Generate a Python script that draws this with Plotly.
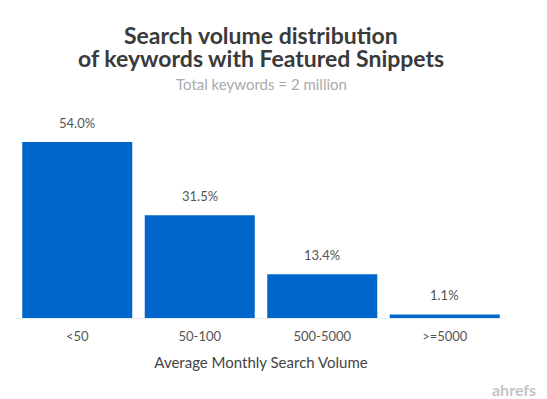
import plotly.graph_objects as go

categories = ["<50", "50-100", "500-5000", ">=5000"]
shares = [54.0, 31.5, 13.4, 1.1]
value_labels = ["54.0%", "31.5%", "13.4%", "1.1%"]

title_line1 = "Search volume distribution"
title_line2 = "of keywords with Featured Snippets"
subtitle = "Total keywords = 2 million"
x_title = "Average Monthly Search Volume"
watermark = "ahrefs"

FONT = "Lato, 'Noto Sans', sans-serif"
BAR_COLOR = "#0066cc"

fig = go.Figure()
fig.add_trace(go.Bar(
    x=categories, y=shares,
    marker=dict(color=BAR_COLOR, line=dict(width=0)),
    hoverinfo="skip",
))

annotations = []
for c, v, t in zip(categories, shares, value_labels):
    annotations.append(dict(
        x=c, y=v, xref="x", yref="y", text=t, showarrow=False,
        yanchor="bottom", yshift=9,
        font=dict(family=FONT, size=13, color="#555555"),
    ))

annotations += [
    dict(text=f"<b>{title_line1}</b>", xref="paper", yref="paper", x=0.5, y=1,
         xanchor="center", yanchor="middle", yshift=65, showarrow=False,
         font=dict(family=FONT, size=23, color="#3a3a3a")),
    dict(text=f"<b>{title_line2}</b>", xref="paper", yref="paper", x=0.5, y=1,
         xanchor="center", yanchor="middle", yshift=42, showarrow=False,
         font=dict(family=FONT, size=23, color="#3a3a3a")),
    dict(text=subtitle, xref="paper", yref="paper", x=0.5, y=1,
         xanchor="center", yanchor="middle", yshift=16, showarrow=False,
         font=dict(family=FONT, size=15, color="#aaaaaa")),
    dict(text=f"<b>{watermark}</b>", xref="paper", yref="paper", x=1.065, y=0,
         xanchor="right", yanchor="middle", yshift=-71, showarrow=False,
         font=dict(family=FONT, size=16, color="#c4c4c4")),
]

fig.update_layout(
    width=539, height=391,
    margin=dict(l=8, r=41, t=92, b=81),
    paper_bgcolor="white", plot_bgcolor="white",
    bargap=0.102,
    showlegend=False,
    annotations=annotations,
    xaxis=dict(
        showgrid=False, showline=False, zeroline=False,
        ticks="outside", ticklen=6, tickcolor="rgba(0,0,0,0)",
        tickfont=dict(family=FONT, size=13, color="#555555"),
        title=dict(text=x_title, standoff=14,
                   font=dict(family=FONT, size=15, color="#444444")),
    ),
    yaxis=dict(
        range=[0, 66.9], showgrid=False, showticklabels=False,
        zeroline=True, zerolinecolor="#e4ebf2", zerolinewidth=1,
        showline=False,
    ),
)

fig.write_html("out.html")
